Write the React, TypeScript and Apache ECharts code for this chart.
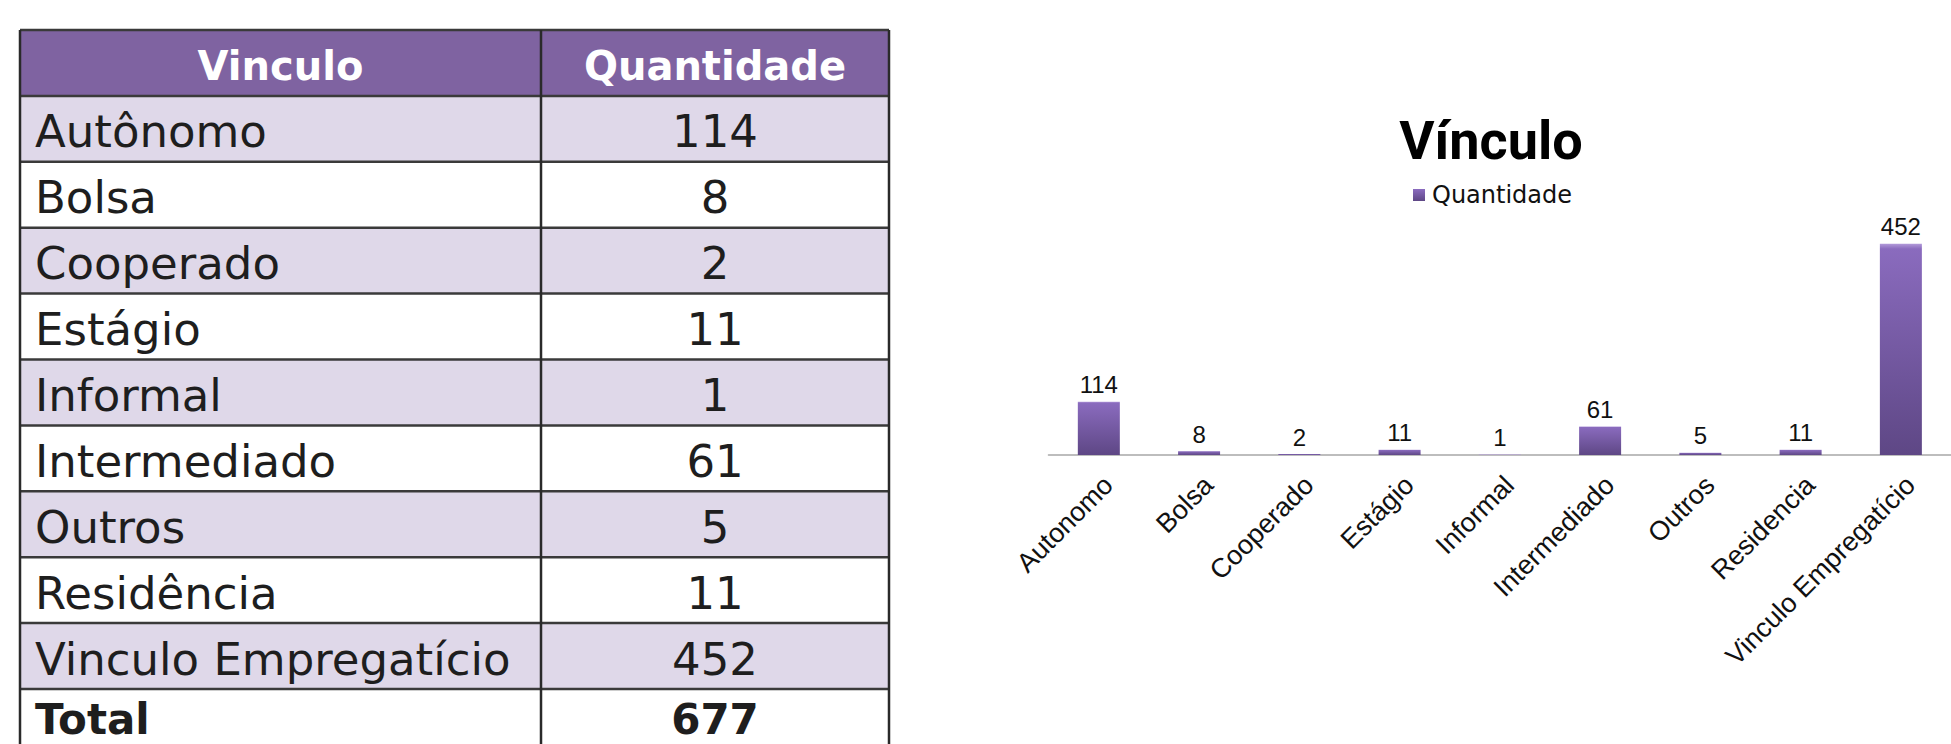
import React, { useEffect, useRef } from 'react';
import * as echarts from 'echarts';

// ---- Table data ----
const tableHeaders = ['Vinculo', 'Quantidade'];
const tableCategories = [
  'Autônomo', 'Bolsa', 'Cooperado', 'Estágio', 'Informal',
  'Intermediado', 'Outros', 'Residência', 'Vinculo Empregatício',
];
const tableValues = [114, 8, 2, 11, 1, 61, 5, 11, 452];
const totalLabel = 'Total';
const totalValue = 677;

// ---- Chart data ----
const chartTitle = 'Vínculo';
const seriesName = 'Quantidade';
const chartCategories = [
  'Autonomo', 'Bolsa', 'Cooperado', 'Estágio', 'Informal',
  'Intermediado', 'Outros', 'Residencia', 'Vinculo Empregatício',
];
const chartValues = [114, 8, 2, 11, 1, 61, 5, 11, 452];

const TABLE = { left: 20, mid: 541, right: 889, top: 30, rowH: 65.9, bottom: 760 };
const TABLE_FONT = 'DejaVu Sans';

function buildTable(): any[] {
  const els: any[] = [];
  const rows = [...tableCategories, totalLabel];
  const vals = [...tableValues, totalValue];
  // header background
  els.push({
    type: 'rect',
    shape: { x: TABLE.left, y: TABLE.top, width: TABLE.right - TABLE.left, height: TABLE.rowH },
    style: { fill: '#7F63A1' },
  });
  rows.forEach((_, i) => {
    const y = TABLE.top + TABLE.rowH * (i + 1);
    els.push({
      type: 'rect',
      shape: { x: TABLE.left, y, width: TABLE.right - TABLE.left, height: TABLE.rowH },
      style: { fill: i % 2 === 0 ? '#DFD8E9' : '#FFFFFF' },
    });
  });
  // header texts
  els.push({
    type: 'text', x: (TABLE.left + TABLE.mid) / 2, y: TABLE.top + 36,
    style: { text: tableHeaders[0], fill: '#FFFFFF', fontFamily: TABLE_FONT, fontWeight: 'bold', fontSize: 40, align: 'center', verticalAlign: 'middle' },
  });
  els.push({
    type: 'text', x: (TABLE.mid + TABLE.right) / 2, y: TABLE.top + 36,
    style: { text: tableHeaders[1], fill: '#FFFFFF', fontFamily: TABLE_FONT, fontWeight: 'bold', fontSize: 40, align: 'center', verticalAlign: 'middle' },
  });
  rows.forEach((name, i) => {
    const rowTop = TABLE.top + TABLE.rowH * (i + 1);
    const isTotal = i === rows.length - 1;
    const dy = isTotal ? 30 : 36;
    const fs = isTotal ? 42 : 45;
    els.push({
      type: 'text', x: 35, y: rowTop + dy,
      style: { text: name, fill: '#1E1E1E', fontFamily: TABLE_FONT, fontWeight: isTotal ? 'bold' : 'normal', fontSize: fs, align: 'left', verticalAlign: 'middle' },
    });
    els.push({
      type: 'text', x: (TABLE.mid + TABLE.right) / 2, y: rowTop + dy,
      style: { text: String(vals[i]), fill: '#1E1E1E', fontFamily: TABLE_FONT, fontWeight: isTotal ? 'bold' : 'normal', fontSize: fs, align: 'center', verticalAlign: 'middle' },
    });
  });
  // grid lines
  for (let i = 0; i <= rows.length + 1; i++) {
    const y = TABLE.top + TABLE.rowH * i;
    if (y > 744) break;
    els.push({
      type: 'line',
      shape: { x1: TABLE.left, y1: y, x2: TABLE.right, y2: y },
      style: { stroke: '#3A3A3A', lineWidth: 2.5 },
    });
  }
  [TABLE.left, TABLE.mid, TABLE.right].forEach((x) => {
    els.push({
      type: 'line',
      shape: { x1: x, y1: TABLE.top, x2: x, y2: TABLE.bottom },
      style: { stroke: '#2A2A2A', lineWidth: 2.5 },
    });
  });
  return els;
}

export default function App() {
  const ref = useRef<HTMLDivElement>(null);
  useEffect(() => {
    if (!ref.current) return;
    const chart = echarts.init(ref.current, null, { renderer: 'svg' });
    const barColor = new echarts.graphic.LinearGradient(0, 0, 0, 1, [
      { offset: 0, color: '#B39BDA' },
      { offset: 0.025, color: '#8A6BBE' },
      { offset: 1, color: '#5E4785' },
    ]);
    chart.setOption({
      animation: false,
      backgroundColor: '#FFFFFF',
      legend: {
        data: [seriesName],
        left: 1408,
        top: 178,
        icon: 'rect',
        itemWidth: 12,
        itemHeight: 12,
        textStyle: { fontFamily: 'DejaVu Sans', fontSize: 24, color: '#111', padding: [0, 0, 0, 2] },
      },
      grid: { left: 1048.7, top: 221.2, width: 923.6, height: 233.8, containLabel: false },
      xAxis: {
        type: 'category',
        data: chartCategories,
        axisLine: { lineStyle: { color: '#BDBDBD', width: 2 } },
        axisTick: { show: false },
        axisLabel: {
          interval: 0,
          rotate: 45,
          margin: 16,
          verticalAlign: 'top',
          fontFamily: 'Liberation Sans',
          fontSize: 27,
          color: '#111',
        },
      },
      yAxis: { type: 'value', min: 0, max: 500, show: false, splitLine: { show: false } },
      series: [
        {
          name: seriesName,
          type: 'bar',
          data: chartValues,
          barWidth: 42,
          itemStyle: { color: barColor },
          label: {
            show: true,
            position: 'top',
            distance: 5,
            fontFamily: 'Liberation Sans',
            fontSize: 24,
            color: '#111',
          },
        },
      ],
      graphic: [
        ...buildTable(),
        {
          type: 'text', x: 1491, y: 140,
          style: { text: chartTitle, fill: '#000', fontFamily: 'Roboto', fontWeight: 'bold', fontSize: 54, align: 'center', verticalAlign: 'middle' },
        },
      ],
    });
    return () => chart.dispose();
  }, []);
  return (
    <div
      ref={ref}
      style={{ position: 'absolute', left: 0, top: 0, width: 1951, height: 744, overflow: 'hidden' }}
    />
  );
}
